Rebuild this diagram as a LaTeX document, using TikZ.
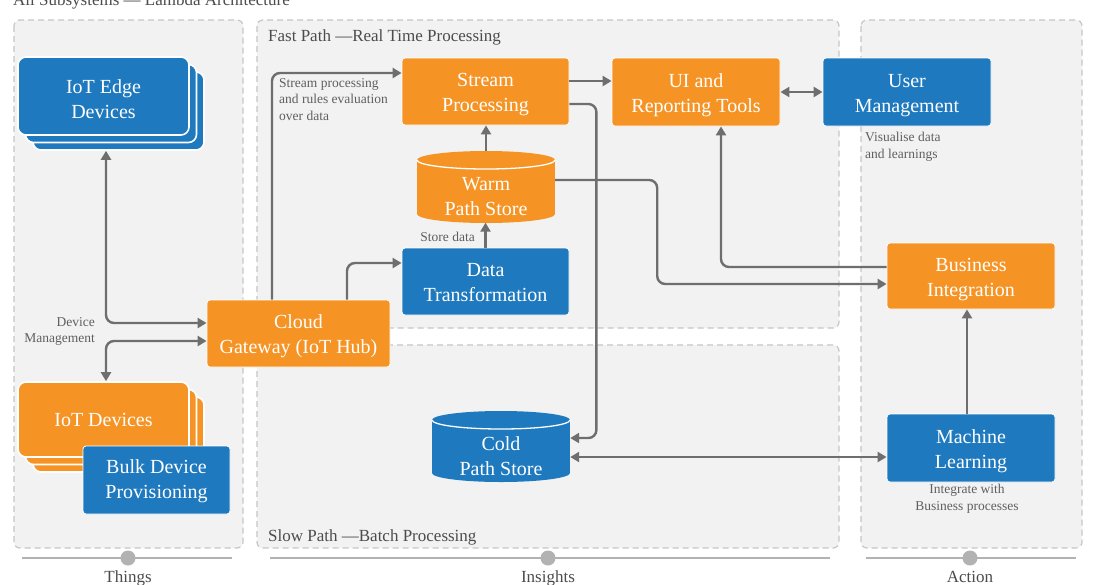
\documentclass[tikz,border=0pt]{standalone}
\usepackage{fontspec}
\setmainfont{Liberation Serif}
\usetikzlibrary{arrows.meta,calc}
\definecolor{orng}{RGB}{245,148,36}
\definecolor{blu}{RGB}{30,121,191}
\definecolor{panelfill}{RGB}{242,242,242}
\definecolor{paneldraw}{RGB}{198,198,198}
\definecolor{connc}{RGB}{110,110,110}
\definecolor{lbl}{RGB}{95,95,95}
\definecolor{axisc}{RGB}{178,178,178}
\newcommand\mycyl[6]{% cx, top, bottom, rx, ry, colour
  \fill[#6] (#1-#4,#2+#5) rectangle (#1+#4,#3-#5);
  \fill[#6] (#1,#3-#5) ellipse [x radius=#4pt, y radius=#5pt];
  \fill[#6] (#1,#2+#5) ellipse [x radius=#4pt, y radius=#5pt];
  \draw[white, line width=1.3pt] (#1-#4,#2+#5) .. controls (#1-#4,#2+#5+0.552*#5) and (#1-0.552*#4,#2+2*#5) .. (#1,#2+2*#5) .. controls (#1+0.552*#4,#2+2*#5) and (#1+#4,#2+#5+0.552*#5) .. (#1+#4,#2+#5);
}
\begin{document}
\begin{tikzpicture}[x=1pt,y=-1pt,
  panel/.style={draw=paneldraw, fill=panelfill, dash pattern=on 6pt off 4pt, line width=1.2pt, rounded corners=6pt},
  box/.style={rounded corners=3pt, draw=white, line width=0.8pt, text=white, align=center, font=\fontsize{20}{25}\selectfont, inner sep=0pt},
  obox/.style={box, fill=orng, text height=40pt, text depth=0pt},
  bbox/.style={box, fill=blu, text height=40pt, text depth=0pt},
  card/.style={box, rounded corners=8pt, line width=1.6pt, minimum width=171, minimum height=#1},
  cyltext/.style={text=white, align=center, font=\fontsize{20}{25}\selectfont, inner sep=0pt, minimum width=138, minimum height=71, text depth=0pt},
  small/.style={text=lbl, font=\fontsize{13.5}{16.7}\selectfont, inner sep=0pt},
  ptitle/.style={text=lbl!80!black, font=\fontsize{17}{20}\selectfont, inner sep=0pt},
  conn/.style={draw=connc, line width=2.4pt, rounded corners=8pt},
  >={Triangle[length=9pt,width=10pt]},
  axisline/.style={draw=axisc, line width=2.6pt}
]
\useasboundingbox (0,0) rectangle (1094,584);
\clip (0,0) rectangle (1094,584);
\fill[white] (0,0) rectangle (1094,584);

% title (cut off at the top, as in the reference)
\node[ptitle, anchor=base west] (title) at (13,5) {All Subsystems — Lambda Architecture};

% panels
\draw[panel] (14,20) rectangle (243,548);
\draw[panel] (257,20) rectangle (839,328);
\draw[panel] (257,345) rectangle (839,548);
\draw[panel] (861,20) rectangle (1082,548);
\node[ptitle, anchor=base west] (fasttitle) at (268,41) {Fast Path —Real Time Processing};
\node[ptitle, anchor=base west] (slowtitle) at (268,541) {Slow Path —Batch Processing};

% axes
\draw[axisline] (22,558) -- (232,558);
\draw[axisline] (270,558) -- (830,558);
\draw[axisline] (866,558) -- (1076,558);
\fill[axisc] (128,558) circle (7.5pt);
\fill[axisc] (548,558) circle (7.5pt);
\fill[axisc] (970,558) circle (7.5pt);
\node[ptitle, anchor=base] (things) at (128,582) {Things};
\node[ptitle, anchor=base] (insights) at (548,582) {Insights};
\node[ptitle, anchor=base] (action) at (970,582) {Action};

% IoT Edge Devices stack
\node[card=78, fill=blu] (edge3) at (118.5,111) {};
\node[card=78, fill=blu] (edge2) at (111,103.5) {};
\node[card=78, fill=blu, text height=44pt, text depth=0pt] (edge) at (103.5,96) {IoT Edge\\Devices};

% IoT Devices stack
\node[card=75, fill=orng] (iot3) at (118.5,434.5) {};
\node[card=75, fill=orng] (iot2) at (111,427) {};
\node[card=75, fill=orng, text depth=0pt] (iot) at (103.5,419.5) {IoT Devices};
\node[bbox, minimum width=147, minimum height=68, text height=37pt] (bulk) at (156.5,480) {Bulk Device\\Provisioning};

% main boxes
\node[obox, minimum width=183, minimum height=67] (gw) at (298.5,333.5) {Cloud\\Gateway (IoT Hub)};
\node[obox, minimum width=167, minimum height=67] (stream) at (485.5,91.5) {Stream\\Processing};
\node[bbox, minimum width=167, minimum height=67] (dt) at (485.5,281.5) {Data\\Transformation};
\node[obox, minimum width=168, minimum height=68] (ui) at (696,92) {UI and\\Reporting Tools};
\node[bbox, minimum width=168, minimum height=68] (um) at (907,92) {User\\Management};
\node[obox, minimum width=168, minimum height=66] (bi) at (971,276) {Business\\Integration};
\node[bbox, minimum width=168, minimum height=68] (ml) at (971,448) {Machine\\Learning};

% cylinders
\mycyl{486}{151}{223}{69}{9}{orng}
\node[cyltext, text height=56pt] (warm) at (486,187) {Warm\\Path Store};
\mycyl{501}{411}{482}{69}{9}{blu}
\node[cyltext, text height=58pt] (cold) at (501,446.5) {Cold\\Path Store};

% small labels
\node[small, align=right, anchor=north east] (devmgmt) at (95,317) {Device\\Management};
\node[small, align=left, anchor=north west] (streamlbl) at (279,78) {Stream processing\\and rules evaluation\\over data};
\node[small, anchor=base east] (storelbl) at (475,241) {Store data};
\node[small, align=left, anchor=north west] (vislbl) at (865,132) {Visualise data\\and learnings};
\node[small, align=center, anchor=north] (intlbl) at (967,484) {Integrate with\\Business processes};

% connectors
\draw[conn, <->] ([xshift=-12.5pt]edge3.south) |- ([yshift=10.5pt]gw.west);
\draw[conn, <->] ([yshift=-7.5pt]gw.west) -| ([xshift=2.5pt]iot.north);
\draw[conn, ->] ([xshift=-26.5pt]gw.north) |- ([yshift=18.5pt]stream.west);
\draw[conn, ->] ([xshift=48.5pt]gw.north) |- ([yshift=18.5pt]dt.west);
\draw[conn, ->] (dt.north) -- (dt.north |- warm.south);
\draw[conn, ->] (warm.north) -- (warm.north |- stream.south);
\draw[conn, ->] ([yshift=10.5pt]stream.east) -- ([yshift=10.5pt]stream.east -| ui.west);
\draw[conn, ->] ([yshift=-12.5pt]stream.east) -- ++(27,0) |- ([yshift=8.5pt]cold.east);
\draw[conn, ->] ([yshift=7pt]warm.east) -- ++(102,0) |- ([yshift=-8pt]bi.west);
\draw[conn, ->] ([yshift=9pt]bi.west) -| ([xshift=25pt]ui.south);
\draw[conn, <->] (ui.east) -- (um.west);
\draw[conn, <->] ([yshift=-10.5pt]cold.east) -- ([yshift=-10.5pt]cold.east -| ml.west);
\draw[conn, ->] ([xshift=-4pt]ml.north) -- ([xshift=-4pt]bi.south);
\end{tikzpicture}
\end{document}
